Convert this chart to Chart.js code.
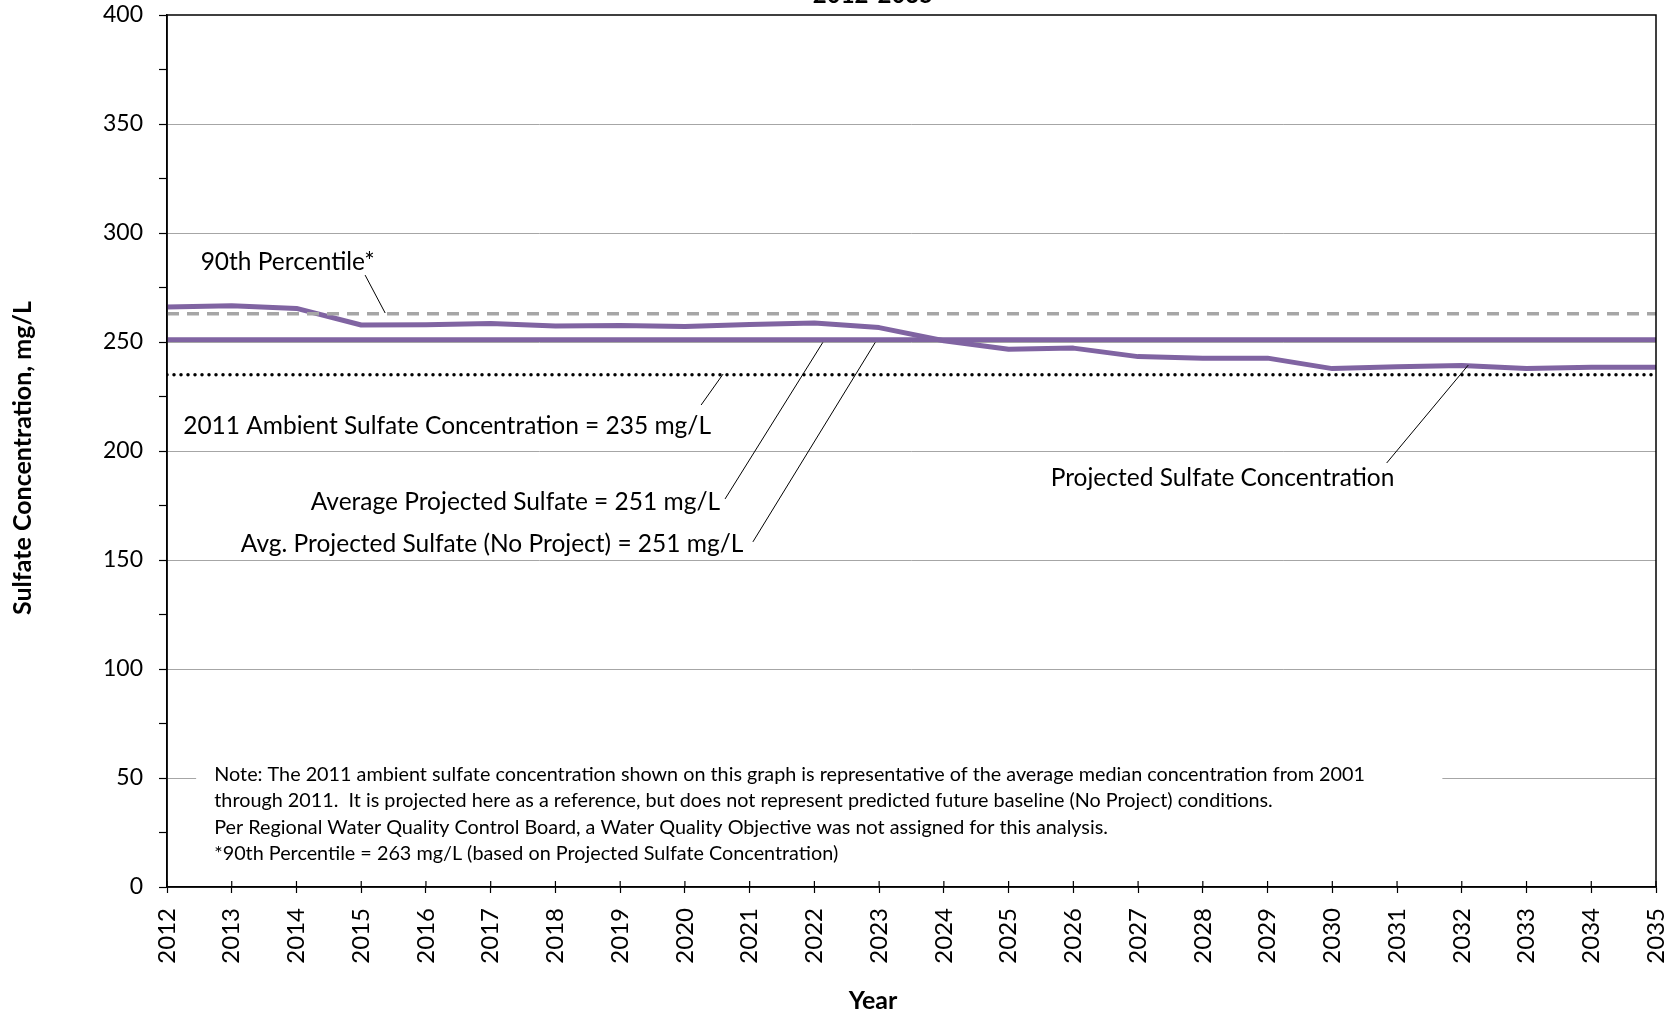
<!DOCTYPE html>
<html>
<head>
<meta charset="utf-8">
<script src="https://cdn.jsdelivr.net/npm/chart.js@4/dist/chart.umd.min.js"></script>
<style>
  html, body { margin: 0; padding: 0; background: #fff; }
  #wrap { width: 1680px; height: 1016px; }
</style>
</head>
<body>
<div id="wrap"><canvas id="sulfate" width="1680" height="1016"></canvas></div>
<script>
//*Data
const years = [2012, 2013, 2014, 2015, 2016, 2017, 2018, 2019, 2020, 2021, 2022, 2023,
  2024, 2025, 2026, 2027, 2028, 2029, 2030, 2031, 2032, 2033, 2034, 2035];
const projectedSulfate = [266.1, 266.6, 265.4, 257.8, 257.9, 258.5, 257.3, 257.6, 257.1, 258.0, 258.7, 256.6,
  250.6, 246.7, 247.2, 243.3, 242.5, 242.6, 237.8, 238.7, 239.2, 237.8, 238.4, 238.4];
const avgProjected = 251;
const avgNoProject = 251;
const ambient2011 = 235;
const percentile90 = 263;
const yTicks = [0, 50, 100, 150, 200, 250, 300, 350, 400];

const chartTitle = '2012-2035';
const yTitle = 'Sulfate Concentration, mg/L';
const xTitle = 'Year';
const noteLines = [
  'Note: The 2011 ambient sulfate concentration shown on this graph is representative of the average median concentration from 2001',
  'through 2011.  It is projected here as a reference, but does not represent predicted future baseline (No Project) conditions.',
  'Per Regional Water Quality Control Board, a Water Quality Objective was not assigned for this analysis.',
  '*90th Percentile = 263 mg/L (based on Projected Sulfate Concentration)'
];

//*Callouts: text anchor and leader line, in (year, mg/L)
const callouts = [
  { text: '90th Percentile*', at: [2012.52, 286.5], from: [2015.06, 280.7], to: [2015.37, 263.3] },
  { text: '2011 Ambient Sulfate Concentration = 235 mg/L', at: [2012.25, 211.5], from: [2020.25, 221.1], to: [2020.59, 235.3] },
  { text: 'Average Projected Sulfate = 251 mg/L', at: [2014.22, 176.4], from: [2020.62, 178.0], to: [2022.13, 249.8] },
  { text: 'Avg. Projected Sulfate (No Project) = 251 mg/L', at: [2013.14, 157.3], from: [2021.05, 158.3], to: [2022.94, 249.8] },
  { text: 'Projected Sulfate Concentration', at: [2025.65, 187.6], from: [2030.84, 194.5], to: [2032.1, 239.4] }
];

const flat = v => years.map(() => v);
const pts = vals => years.map((yr, i) => ({ x: yr, y: vals[i] }));

Chart.defaults.font.family = 'Lato, "Open Sans", sans-serif';
Chart.defaults.color = '#000';

//*Extra drawing: note, callouts, frame, titles
const extras = {
  id: 'extras',
  afterDatasetsDraw(chart) {
    const { ctx, chartArea: a, scales: { x, y } } = chart;
    ctx.save();

    // note box hides the 50 gridline behind it
    ctx.fillStyle = '#fff';
    ctx.fillRect(x.getPixelForValue(2012.45), y.getPixelForValue(56), x.getPixelForValue(2031.7) - x.getPixelForValue(2012.45), y.getPixelForValue(10) - y.getPixelForValue(56));
    ctx.fillStyle = '#000';
    ctx.font = '19.8px Lato';
    ctx.textBaseline = 'middle';
    ctx.textAlign = 'left';
    const noteX = x.getPixelForValue(2012.73);
    noteLines.forEach((t, i) => {
      ctx.fillText(t, noteX, y.getPixelForValue(51.5) + i * 26.3);
    });

    // callouts
    ctx.font = '24.5px Lato';
    ctx.strokeStyle = '#000';
    ctx.lineWidth = 1;
    callouts.forEach(c => {
      ctx.fillText(c.text, x.getPixelForValue(c.at[0]), y.getPixelForValue(c.at[1]));
      ctx.beginPath();
      ctx.moveTo(x.getPixelForValue(c.from[0]), y.getPixelForValue(c.from[1]));
      ctx.lineTo(x.getPixelForValue(c.to[0]), y.getPixelForValue(c.to[1]));
      ctx.stroke();
    });

    // frame
    ctx.lineWidth = 1.5;
    ctx.strokeRect(a.left, a.top, a.right - a.left, a.bottom - a.top);

    // x ticks cross the axis
    ctx.lineWidth = 1.2;
    years.forEach(yr => {
      const px = x.getPixelForValue(yr);
      ctx.beginPath();
      ctx.moveTo(px, a.bottom);
      ctx.lineTo(px, a.bottom - 6);
      ctx.stroke();
    });

    // axis titles
    ctx.font = 'bold 25px Lato';
    ctx.textAlign = 'center';
    ctx.fillText(xTitle, 873, 1001);
    ctx.save();
    ctx.translate(23, 458);
    ctx.rotate(-Math.PI / 2);
    ctx.fillText(yTitle, 0, 0);
    ctx.restore();

    // chart title, cut off by the top edge
    ctx.font = 'bold 24px Lato';
    ctx.textBaseline = 'alphabetic';
    ctx.fillText(chartTitle, 873, 3);

    ctx.restore();
  }
};

const ctx = document.getElementById('sulfate').getContext('2d');
const chart = new Chart(ctx, {
  type: 'line',
  data: {
    datasets: [
      {
        label: '90th Percentile',
        data: pts(flat(percentile90)),
        borderColor: '#a6a6a6',
        borderWidth: 3.5,
        borderDash: [12, 8],
        pointRadius: 0
      },
      {
        label: '2011 Ambient Sulfate Concentration',
        data: pts(flat(ambient2011)),
        borderColor: '#000',
        borderWidth: 3.5,
        borderDash: [0, 7],
        borderCapStyle: 'round',
        pointRadius: 0
      },
      {
        label: 'Avg. Projected Sulfate (No Project)',
        data: pts(flat(avgNoProject)),
        borderColor: '#8064a2',
        borderWidth: 4.5,
        pointRadius: 0
      },
      {
        label: 'Average Projected Sulfate',
        data: pts(flat(avgProjected)),
        borderColor: '#8064a2',
        borderWidth: 4.5,
        pointRadius: 0
      },
      {
        label: 'Projected Sulfate Concentration',
        data: pts(projectedSulfate),
        borderColor: '#8064a2',
        borderWidth: 5,
        borderJoinStyle: 'round',
        pointRadius: 0,
        tension: 0
      }
    ]
  },
  options: {
    responsive: false,
    animation: false,
    devicePixelRatio: 1,
    layout: { padding: { top: 15, right: 24, left: 0, bottom: 0 } },
    plugins: { legend: { display: false }, tooltip: { enabled: false } },
    scales: {
      x: {
        type: 'linear',
        min: years[0],
        max: years[years.length - 1],
        afterFit: s => { s.height = 129; s.paddingLeft = 0; s.paddingRight = 0; },
        afterBuildTicks: s => { s.ticks = years.map(v => ({ value: v })); },
        ticks: {
          autoSkip: false,
          maxRotation: 90,
          minRotation: 90,
          padding: 15,
          font: { size: 24 },
          color: '#000',
          callback: v => String(v)
        },
        grid: { drawOnChartArea: false, tickLength: 6, tickColor: '#000', tickWidth: 1.2 },
        border: { color: '#000', width: 1.5 }
      },
      y: {
        min: yTicks[0],
        max: yTicks[yTicks.length - 1],
        afterFit: s => { s.width = 167; s.paddingTop = 0; s.paddingBottom = 0; },
        ticks: {
          stepSize: 25,
          padding: 16,
          font: { size: 23 },
          color: '#000',
          callback: v => yTicks.includes(v) ? v : ''
        },
        grid: {
          color: c => (c.tick && yTicks.includes(c.tick.value) && c.tick.value > 0 && c.tick.value < 400) ? '#a6a6a6' : 'rgba(0,0,0,0)',
          lineWidth: 1,
          tickColor: '#000',
          tickLength: 8,
          tickWidth: 1.2
        },
        border: { color: '#000', width: 1.5 }
      }
    }
  },
  plugins: [extras]
});
</script>
</body>
</html>
